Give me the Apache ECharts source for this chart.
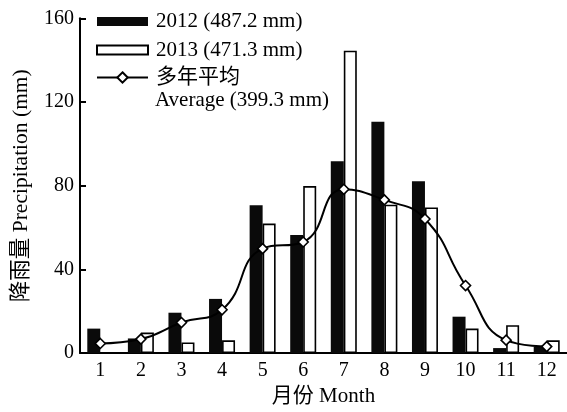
<!DOCTYPE html>
<html>
<head>
<meta charset="utf-8">
<script src="https://cdn.jsdelivr.net/npm/echarts@6/dist/echarts.min.js"></script>
<style>
html,body{margin:0;padding:0;background:#fff;}
#chart{width:567px;height:412px;}
</style>
</head>
<body>
<div id="chart"></div>
<script>
const months = ['1','2','3','4','5','6','7','8','9','10','11','12'];
const rain2012 = [11.7, 7.0, 19.3, 25.9, 70.6, 56.4, 91.7, 110.6, 82.1, 17.4, 2.4, 3.1];
const rain2013 = [0, 9.8, 5.1, 6.1, 61.9, 79.8, 144.5, 70.9, 69.6, 11.7, 13.3, 6.1];
const rainAvg = [4.6, 6.7, 14.6, 20.7, 49.9, 53.1, 78.3, 73.2, 64.1, 32.3, 6.2, 3.1];
const yTicks = [0, 40, 80, 120, 160];
const name2012 = '2012 (487.2 mm)';
const name2013 = '2013 (471.3 mm)';
const nameAvg = '多年平均';
const nameAvg2 = 'Average (399.3 mm)';
const yName = '降雨量 Precipitation (mm)';
const xName = '月份 Month';

const FONT = "'Liberation Serif', 'Times New Roman', 'Noto Sans CJK SC', serif";
const chart = echarts.init(document.getElementById('chart'), null, {renderer: 'canvas'});
chart.setOption({
  animation: false,
  backgroundColor: '#fff',
  textStyle: {fontFamily: FONT, color: '#000'},
  grid: {left: 80, right: 0, top: 18.3, bottom: 55.5, containLabel: false},
  legend: [
    {
      data: [name2012, name2013],
      orient: 'vertical',
      left: 96, top: 11, padding: 0,
      icon: 'rect',
      itemWidth: 51, itemHeight: 9, itemGap: 7.5,
      textStyle: {fontFamily: FONT, fontSize: 21, color: '#000', padding: [0,0,0,3]},
      selectedMode: false
    },
    {
      data: [nameAvg],
      orient: 'vertical',
      left: 96, top: 67, padding: 0,
      itemWidth: 51, itemHeight: 13,
      textStyle: {fontFamily: FONT, fontSize: 21, color: '#000', padding: [0,0,0,3]},
      selectedMode: false
    }
  ],
  graphic: [{
    type: 'text', left: 155, top: 90,
    style: {text: nameAvg2, font: '21px ' + FONT, fill: '#000'}
  }],
  xAxis: {
    type: 'category',
    data: months,
    boundaryGap: true,
    name: xName,
    nameLocation: 'middle',
    nameGap: 32,
    nameTextStyle: {fontFamily: FONT, fontSize: 21, color: '#000'},
    axisLine: {lineStyle: {color: '#000', width: 2}},
    axisTick: {inside: true, length: 6, lineStyle: {color: '#000', width: 2}},
    axisLabel: {fontFamily: FONT, fontSize: 20, color: '#000', margin: 8, interval: 0},
    splitLine: {show: false}
  },
  yAxis: {
    type: 'value',
    min: yTicks[0], max: yTicks[yTicks.length - 1], interval: 40,
    name: yName,
    nameLocation: 'middle',
    nameGap: 48,
    nameTextStyle: {fontFamily: FONT, fontSize: 21.5, color: '#000'},
    axisLine: {show: true, lineStyle: {color: '#000', width: 2}},
    axisTick: {show: true, inside: true, length: 6, lineStyle: {color: '#000', width: 2}},
    axisLabel: {fontFamily: FONT, fontSize: 20, color: '#000', margin: 6},
    splitLine: {show: false}
  },
  series: [
    {
      name: name2012, type: 'bar', data: rain2012,
      barWidth: 13, barGap: '0%',
      itemStyle: {color: '#0a0a0a', borderColor: '#000', borderWidth: 0}
    },
    {
      name: name2013, type: 'bar', data: rain2013,
      barWidth: 13, barGap: '0%',
      itemStyle: {color: '#fff', borderColor: '#000', borderWidth: 1.6}
    },
    {
      name: nameAvg, type: 'line', data: rainAvg,
      smooth: 0.5,
      symbol: 'diamond', symbolSize: 10,
      z: 5,
      lineStyle: {color: '#000', width: 2},
      itemStyle: {color: '#fff', borderColor: '#000', borderWidth: 1.6}
    }
  ]
});
</script>
</body>
</html>
